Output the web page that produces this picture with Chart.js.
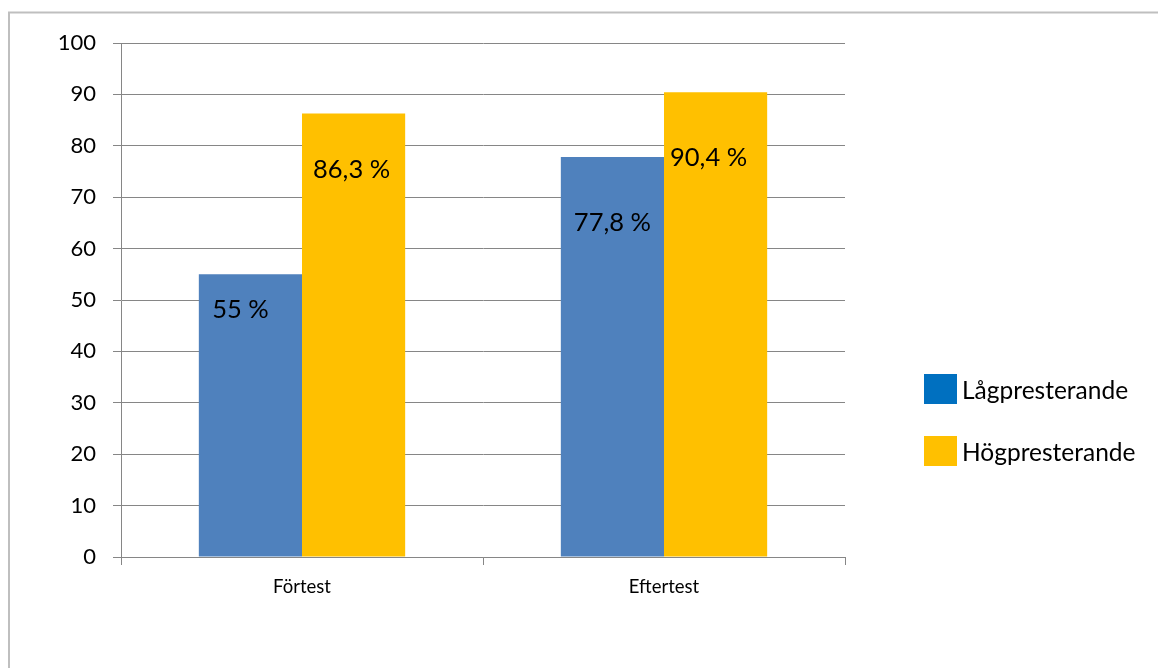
<!DOCTYPE html>
<html><head><meta charset="utf-8">
<script src="https://cdn.jsdelivr.net/npm/chart.js@4"></script>
<style>html,body{margin:0;padding:0;background:#fff}canvas{display:block}</style>
</head><body>
<canvas id="c" width="1158" height="668"></canvas>
<script>
const categories = ['Förtest', 'Eftertest'];
const seriesNames = ['Lågpresterande', 'Högpresterande'];
const lowValues = [55, 77.8];
const highValues = [86.3, 90.4];
const lowLabels = ['55 %', '77,8 %'];
const highLabels = ['86,3 %', '90,4 %'];
const yTicks = [0, 10, 20, 30, 40, 50, 60, 70, 80, 90, 100];

const FONT = 'Lato, "Open Sans", sans-serif';
const barColors = ['#4F81BD', '#FFC000'];
const legendColors = ['#0070C0', '#FFC000'];

const framePlugin = {
  id: 'frame',
  beforeDraw(chart) {
    const ctx = chart.ctx;
    ctx.save();
    ctx.fillStyle = '#fff';
    ctx.fillRect(0, 0, chart.width, chart.height);
    ctx.strokeStyle = '#bfbfbf';
    ctx.lineWidth = 2;
    ctx.beginPath();
    ctx.moveTo(9, chart.height);
    ctx.lineTo(9, 12.5);
    ctx.lineTo(chart.width, 12.5);
    ctx.stroke();
    ctx.restore();
  }
};

const labelPlugin = {
  id: 'barLabels',
  afterDatasetsDraw(chart, args, opts) {
    const ctx = chart.ctx;
    ctx.save();
    ctx.font = '25.5px ' + FONT;
    ctx.fillStyle = '#000';
    ctx.textAlign = 'center';
    ctx.textBaseline = 'alphabetic';
    chart.data.datasets.forEach((ds, di) => {
      const meta = chart.getDatasetMeta(di);
      meta.data.forEach((el, i) => {
        const off = opts.offsets[di][i];
        ctx.fillText(ds.valueLabels[i], el.x + off[0], el.y + off[1]);
      });
    });
    ctx.restore();
  }
};

const legendPlugin = {
  id: 'customLegend',
  afterDraw(chart) {
    const ctx = chart.ctx;
    ctx.save();
    ctx.font = '24.5px ' + FONT;
    ctx.textAlign = 'left';
    ctx.textBaseline = 'alphabetic';
    const x = chart.chartArea.right + 79;
    const tops = [374, 436];
    chart.data.datasets.forEach((ds, i) => {
      ctx.fillStyle = legendColors[i];
      ctx.fillRect(x, tops[i], 33, 30);
      ctx.fillStyle = '#000';
      ctx.fillText(ds.label, x + 38, tops[i] + 25);
    });
    ctx.restore();
  }
};

new Chart(document.getElementById('c'), {
  type: 'bar',
  data: {
    labels: categories,
    datasets: [
      { label: seriesNames[0], data: lowValues, valueLabels: lowLabels, backgroundColor: barColors[0] },
      { label: seriesNames[1], data: highValues, valueLabels: highLabels, backgroundColor: barColors[1] }
    ]
  },
  options: {
    responsive: false,
    animation: false,
    layout: { padding: { left: 20, right: 313, top: 43, bottom: 51 } },
    datasets: { bar: { barPercentage: 1, categoryPercentage: 0.57 } },
    plugins: {
      legend: { display: false },
      tooltip: { enabled: false },
      barLabels: { offsets: [[[-10, 44], [0, 74]], [[-2, 65], [-7, 74]]] }
    },
    scales: {
      x: {
        grid: { drawOnChartArea: false, tickLength: 8, color: '#868686', offset: true },
        border: { color: '#868686', width: 1 },
        ticks: { color: '#000', font: { family: FONT, size: 18.5 }, padding: 11 },
        afterFit(s) { s.height = 60; }
      },
      y: {
        min: 0, max: 100,
        afterBuildTicks(s) { s.ticks = yTicks.map(v => ({ value: v })); },
        grid: { color: '#868686', tickLength: 8 },
        border: { color: '#868686', width: 1 },
        ticks: { color: '#000', font: { family: FONT, size: 22 }, padding: 17 },
        afterFit(s) { s.width = 101; }
      }
    }
  },
  plugins: [framePlugin, labelPlugin, legendPlugin]
});
</script>
</body></html>
